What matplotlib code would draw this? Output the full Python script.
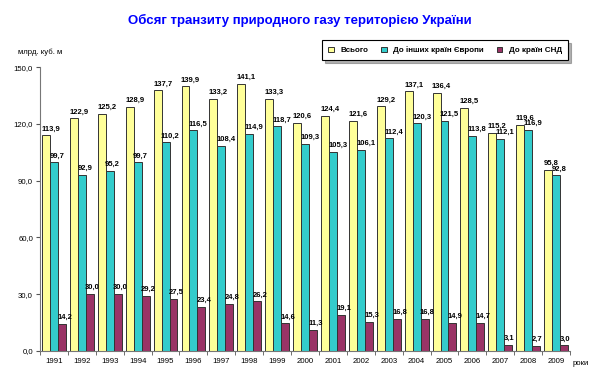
import numpy as np
import matplotlib.pyplot as plt
from matplotlib.patches import Patch

plt.rcParams['font.family'] = ['Liberation Sans', 'DejaVu Sans']

years = ['1991', '1992', '1993', '1994', '1995', '1996', '1997', '1998', '1999', '2000',
         '2001', '2002', '2003', '2004', '2005', '2006', '2007', '2008', '2009']
total = [113.9, 122.9, 125.2, 128.9, 137.7, 139.9, 133.2, 141.1, 133.3, 120.6,
         124.4, 121.6, 129.2, 137.1, 136.4, 128.5, 115.2, 119.6, 95.8]
europe = [99.7, 92.9, 95.2, 99.7, 110.2, 116.5, 108.4, 114.9, 118.7, 109.3,
          105.3, 106.1, 112.4, 120.3, 121.5, 113.8, 112.1, 116.9, 92.8]
cis = [14.2, 30.0, 30.0, 29.2, 27.5, 23.4, 24.8, 26.2, 14.6, 11.3,
       19.1, 15.3, 16.8, 16.8, 14.9, 14.7, 3.1, 2.7, 3.0]
series_names = ['Всього', 'До інших країн Європи', 'До країн СНД']
colors = ['#FFFF99', '#33CCCC', '#993366']

fig = plt.figure(figsize=(6, 3.79), dpi=100)
ax = fig.add_axes([0.0667, 0.074, 0.8833, 0.749])

x = np.arange(len(years))
w = 0.285
for k, vals in enumerate([total, europe, cis]):
    pos = x + (k - 1) * w
    ax.bar(pos, vals, w, color=colors[k], edgecolor='#333333', linewidth=0.7)
    for p, v in zip(pos, vals):
        ax.text(p - w / 2 - 0.02, v + 1.5, ('%.1f' % v).replace('.', ','),
                ha='left', va='bottom', fontsize=5.5, fontweight='bold')

ax.set_xlim(-0.5, len(years) - 0.5)
ax.set_ylim(0, 150)
ax.set_yticks([0, 30, 60, 90, 120, 150])
ax.set_yticklabels(['0,0', '30,0', '60,0', '90,0', '120,0', '150,0'], fontsize=5.6)
ax.set_xticks(x)
ax.set_xticklabels(years, fontsize=5.6)
ax.set_xticks(np.arange(-0.5, len(years)), minor=True)
ax.tick_params(axis='x', which='major', length=0, pad=5)
ax.tick_params(axis='x', which='minor', length=3, direction='out', color='#555555')
ax.tick_params(axis='y', length=3, direction='out', color='#555555', pad=2)
for s in ['top', 'right']:
    ax.spines[s].set_visible(False)
for s in ['left', 'bottom']:
    ax.spines[s].set_color('#777777')
    ax.spines[s].set_linewidth(0.8)

fig.text(0.5, 0.947, 'Обсяг транзиту природного газу територією України',
         ha='center', va='center', fontsize=9.5, fontweight='bold', color='#0000FF')
fig.text(0.03, 0.862, 'млрд. куб. м', fontsize=5.6, ha='left', va='center')
fig.text(0.955, 0.042, 'роки', fontsize=5.6, ha='left', va='center')

handles = [Patch(facecolor=c, edgecolor='#333333', linewidth=0.7) for c in colors]
leg = fig.legend(handles, series_names, ncol=3, loc='center',
                 bbox_to_anchor=(0.7417, 0.867), frameon=True,
                 fancybox=False, shadow={'color': '#666666'}, handlelength=0.7, handleheight=0.7,
                 handletextpad=0.8, columnspacing=1.6, borderpad=0.75,
                 prop={'weight': 'bold', 'size': 5.8})
leg.get_frame().set_edgecolor('black')
leg.get_frame().set_linewidth(0.8)

fig.savefig('out.png', dpi=100)
